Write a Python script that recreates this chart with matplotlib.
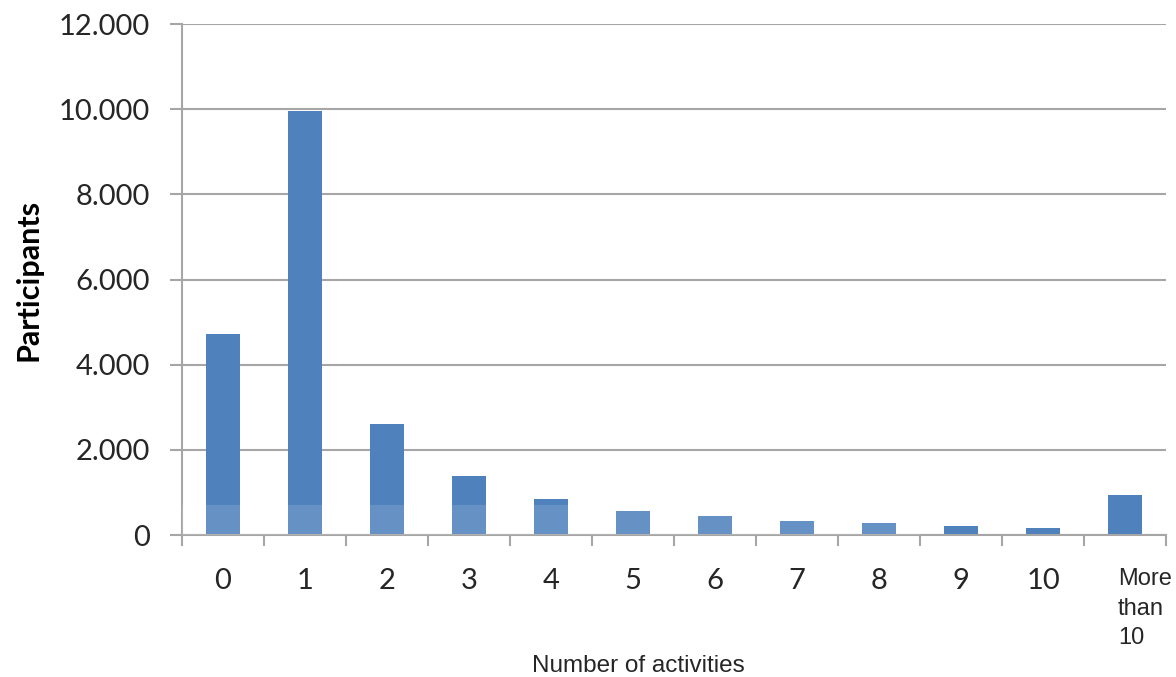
import matplotlib
matplotlib.use("Agg")
import matplotlib.pyplot as plt
import matplotlib.transforms as mtransforms
from matplotlib.ticker import FixedLocator, FuncFormatter

# Number of activities per participant
categories = ["0", "1", "2", "3", "4", "5", "6", "7", "8", "9", "10", "More\nthan\n10"]
participants = [4720, 9950, 2600, 1390, 845, 570, 440, 330, 290, 210, 160, 950]

y_ticks = [0, 2000, 4000, 6000, 8000, 10000, 12000]

BAR = "#4f81bd"
GRID = "#a6a6a6"
TEXT = "#262626"
NUM_FONT = ["Lato", "DejaVu Sans"]
SANS = ["Liberation Sans Narrow", "Liberation Sans", "DejaVu Sans"]

fig = plt.figure(figsize=(11.76, 6.77), dpi=100)
ax = fig.add_axes([0.1548, 0.2097, 0.8367, 0.7548])

x = list(range(len(categories)))
ax.bar(x, participants, width=0.41, color=BAR, zorder=2)

# lighter lower band across the first bars
ax.fill_between([-0.5, 8.5], 0, 710, color="white", alpha=0.13, lw=0, zorder=3)

ax.set_xlim(-0.5, len(categories) - 0.5)
ax.set_ylim(0, 12000)

ax.yaxis.set_major_locator(FixedLocator(y_ticks))
ax.yaxis.set_major_formatter(FuncFormatter(lambda v, p: f"{int(v):,}".replace(",", ".")))
ax.grid(axis="y", color=GRID, lw=1.5, zorder=0)
ax.set_axisbelow(True)

for side in ("top", "right"):
    ax.spines[side].set_visible(False)
for side in ("left", "bottom"):
    ax.spines[side].set_color(GRID)
    ax.spines[side].set_linewidth(1.5)

# category boundaries as x ticks, labels as minor ticks at centres
ax.set_xticks([i - 0.5 for i in range(len(categories) + 1)])
ax.set_xticklabels([])
ax.set_xticks(x, minor=True)
ax.set_xticklabels(categories, minor=True)
ax.tick_params(axis="x", which="major", length=8, width=1.5, color=GRID, direction="out")
ax.tick_params(axis="x", which="minor", length=0, pad=24, labelsize=21, labelcolor=TEXT)
ax.tick_params(axis="y", length=9, width=1.5, color=GRID, direction="out", pad=14,
               labelsize=21, labelcolor=TEXT)

for lab in ax.get_yticklabels():
    lab.set_family(NUM_FONT)
minor_labels = ax.xaxis.get_minorticklabels()
for lab in minor_labels:
    lab.set_family(NUM_FONT)
last = minor_labels[-1]
last.set_family(SANS)
last.set_fontsize(17)
last.set_horizontalalignment("left")
last.set_linespacing(1.42)
last.set_transform(last.get_transform() +
                   mtransforms.ScaledTranslation(-7 / 100, 0, fig.dpi_scale_trans))

ax.set_ylabel("Participants", fontsize=22, fontweight="bold", family=NUM_FONT,
              color="black")
ax.yaxis.set_label_coords(-0.142, 0.5)
fig.text(0.543, 0.0, "Number of activities", fontsize=17.5, family=SANS,
         color=TEXT, ha="center", va="bottom")

fig.savefig("out.png", dpi=100, facecolor="white")
